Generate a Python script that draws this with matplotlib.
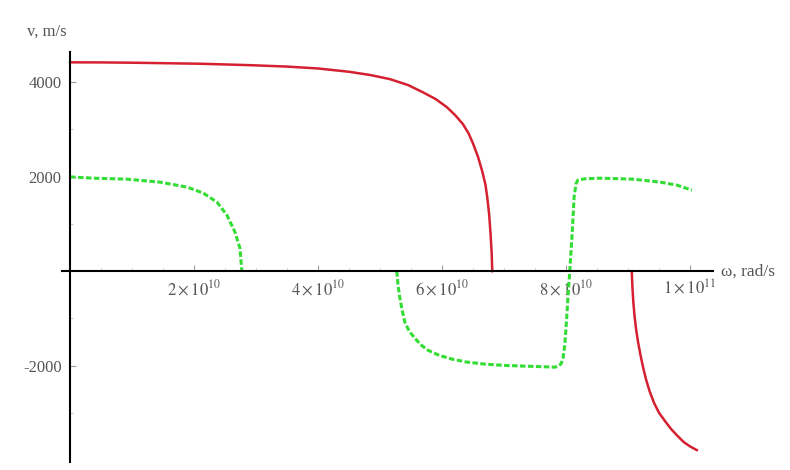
import numpy as np
import matplotlib.pyplot as plt

plt.rcParams['font.family'] = ['Liberation Serif', 'DejaVu Serif']
plt.rcParams['mathtext.fontset'] = 'stix'

# frequency in units of 1e9 rad/s, phase velocity in m/s
red_w1 = [0.0, 5.0, 10.0, 15.0, 21.0, 29.0, 35.0, 40.0, 45.0, 48.5, 51.6, 54.5, 56.9,
          59.0, 60.8, 62.2, 63.4, 64.3, 65.0, 65.8, 66.5, 67.0, 67.3, 67.6, 67.8, 68.0, 68.1]
red_v1 = [4420, 4418, 4412, 4402, 4390, 4360, 4330, 4290, 4220, 4150, 4064, 3940, 3787,
          3640, 3468, 3290, 3106, 2910, 2700, 2420, 2106, 1830, 1553, 1200, 830, 400, 0]

red_w2 = [90.6, 90.7, 90.85, 91.05, 91.3, 91.6, 92.0, 92.4, 92.9, 93.5, 94.2, 95.0,
          96.0, 97.0, 98.0, 99.0, 100.0, 101.1]
red_v2 = [0, -330, -650, -950, -1230, -1490, -1770, -2020, -2290, -2550, -2790, -3000,
          -3180, -3350, -3490, -3620, -3710, -3788]

green_w1 = [0.0, 3.7, 9.2, 14.5, 18.9, 21.5, 23.7, 25.3, 26.6, 27.4, 27.7]
green_v1 = [1995, 1968, 1947, 1884, 1778, 1651, 1460, 1185, 825, 487, 0]

green_w2 = [52.7, 52.9, 53.2, 53.6, 54.0, 54.7, 55.6, 56.6, 57.7, 59.5, 61.6, 64.0,
            66.9, 70.0, 73.4, 76.0, 78.2, 78.8, 79.2, 79.5, 79.8, 80.1, 80.3, 80.6,
            81.0, 81.3, 81.6, 81.9, 83.0, 85.5, 90.8, 95.2, 97.9, 100.3]
green_v2 = [0, -300, -571, -850, -1079, -1270, -1418, -1560, -1672, -1780, -1862, -1925,
            -1968, -1995, -2011, -2022, -2032, -2010, -1960, -1850, -1566, -1000, -571, 0,
            825, 1566, 1850, 1926, 1955, 1968, 1947, 1884, 1820, 1714]

x_ticks = [2e10, 4e10, 6e10, 8e10, 1e11]
x_labels = [r'$2\times10^{10}$', r'$4\times10^{10}$', r'$6\times10^{10}$',
            r'$8\times10^{10}$', r'$1\times10^{11}$']
y_ticks = [-2000, 2000, 4000]
y_labels = ['-2000', '2000', '4000']

fig = plt.figure(figsize=(7.9, 4.7), dpi=100)
ax = fig.add_axes([0.0785, 0.017, 0.824, 0.872])

ax.plot(np.array(red_w1) * 1e9, red_v1, color='#d42030', lw=1.8)
ax.plot(np.array(red_w2) * 1e9, red_v2, color='#d42030', lw=1.8)
ax.plot(np.array(green_w1) * 1e9, green_v1, color='#33dd33', lw=2.2, ls=(0, (1.8, 0.8)))
ax.plot(np.array(green_w2) * 1e9, green_v2, color='#33dd33', lw=2.2, ls=(0, (1.8, 0.8)))

ax.set_xlim(-1.3e9, 103.7e9)
ax.set_ylim(-4040, 4635)

ax.spines['left'].set_position(('data', 0))
ax.spines['bottom'].set_position(('data', 0))
ax.spines['top'].set_visible(False)
ax.spines['right'].set_visible(False)
ax.spines['left'].set_linewidth(1.5)
ax.spines['bottom'].set_linewidth(1.5)

ax.set_xticks(x_ticks)
ax.set_xticklabels(x_labels)
ax.set_yticks(y_ticks)
ax.set_yticklabels(y_labels)
ax.set_xticks(np.arange(5e9, 1.0e11, 5e9), minor=True)
ax.set_yticks(np.arange(-3000, 4600, 1000), minor=True)
ax.tick_params(which='major', direction='in', length=4, width=0.8, colors='#999999',
               labelcolor='#555555', labelsize=12, pad=6)
ax.tick_params(which='minor', direction='in', length=2, width=0.6, colors='#bbbbbb')

ax.text(-0.5e9, 4900, 'v, m/s', ha='right', va='bottom', fontsize=12, color='#555555',
        clip_on=False)
ax.text(105e9, 0, 'ω, rad/s', ha='left', va='center', fontsize=12.5, color='#555555',
        clip_on=False)

fig.savefig('out.png', dpi=100, facecolor='white')
